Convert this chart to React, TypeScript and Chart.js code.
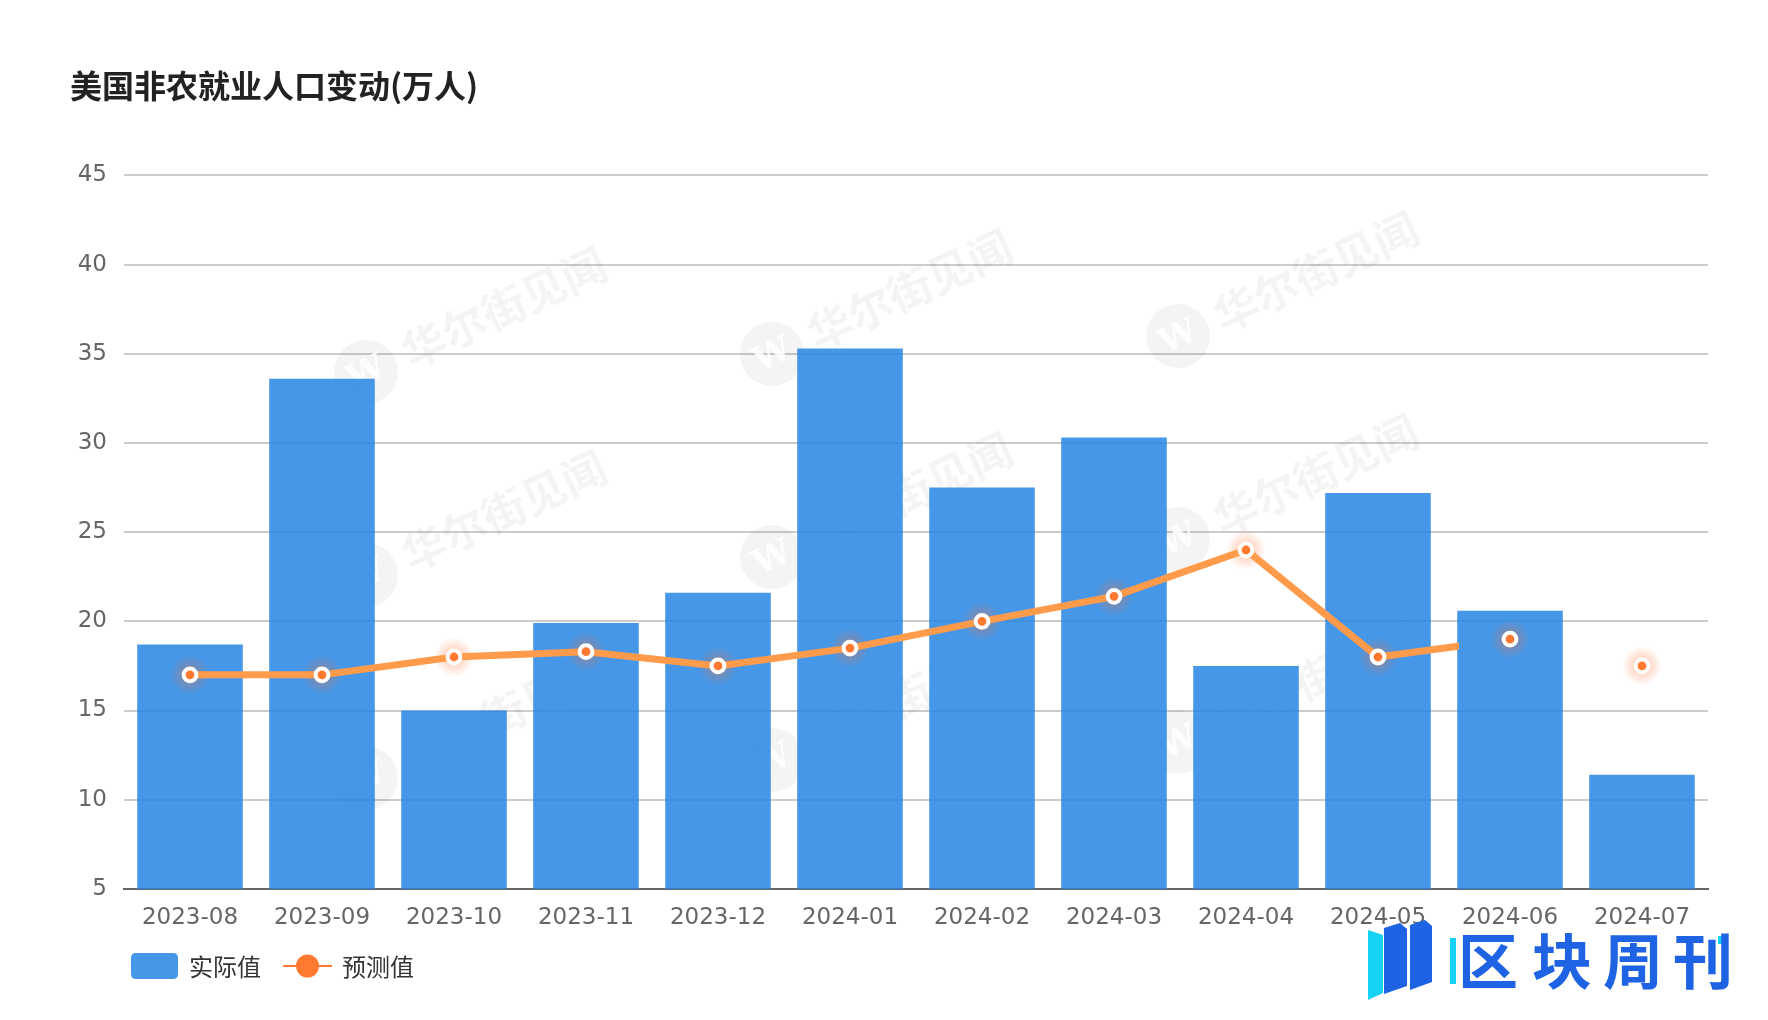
import React, { useEffect, useRef } from "react";
import { Chart, registerables } from "chart.js";

Chart.register(...registerables);

// ---------------- data ----------------
const categories = [
  "2023-08", "2023-09", "2023-10", "2023-11", "2023-12", "2024-01",
  "2024-02", "2024-03", "2024-04", "2024-05", "2024-06", "2024-07",
];
const actualValues = [18.7, 33.6, 15.0, 19.9, 21.6, 35.3, 27.5, 30.3, 17.5, 27.2, 20.6, 11.4];
const forecastValues = [17.0, 17.0, 18.0, 18.3, 17.5, 18.5, 20.0, 21.4, 24.0, 18.0, 19.0, 17.5];
const yTickMin = 5;
const yTickMax = 45;
const yTickStep = 5;
const seriesNames = ["实际值", "预测值"];
const titleText = "美国非农就业人口变动(万人)";
const watermarkText = "华尔街见闻";
const logoChars = ["区", "块", "周", "刊"];

// ---------------- styles ----------------
const CJK = "'Noto Sans CJK SC', 'Noto Sans', sans-serif";
const LATIN = "'DejaVu Sans', 'Liberation Sans', sans-serif";
const BAR_COLOR = "rgba(38,133,228,0.85)";
const BAR_LEGEND = "#4697E8";
const LINE_COLOR = "#FF9B4B";
const LINE_CLEAR = "rgba(255,155,75,0)";
const POINT_COLOR = "#FF7A30";
const LINE_VISIBLE_FRACTION = 0.61; // partial segment drawn between 2024-05 and 2024-06

function roundRect(ctx: CanvasRenderingContext2D, x: number, y: number, w: number, h: number, r: number) {
  ctx.beginPath();
  ctx.moveTo(x + r, y);
  ctx.lineTo(x + w - r, y);
  ctx.quadraticCurveTo(x + w, y, x + w, y + r);
  ctx.lineTo(x + w, y + h - r);
  ctx.quadraticCurveTo(x + w, y + h, x + w - r, y + h);
  ctx.lineTo(x + r, y + h);
  ctx.quadraticCurveTo(x, y + h, x, y + h - r);
  ctx.lineTo(x, y + r);
  ctx.quadraticCurveTo(x, y, x + r, y);
  ctx.closePath();
}

const watermarkPlugin = {
  id: "watermarkPlugin",
  beforeDatasetsDraw(chart: any) {
    const ctx: CanvasRenderingContext2D = chart.ctx;
    ctx.save();
    for (let r = 0; r < 3; r++) {
      for (let c = 0; c < 3; c++) {
        const cx = 366 + c * 406;
        const cy = 372 + r * 203 - c * 18;
        ctx.save();
        ctx.translate(cx, cy);
        ctx.rotate((-25 * Math.PI) / 180);
        ctx.fillStyle = "rgba(0,0,0,0.045)";
        ctx.beginPath();
        ctx.arc(0, 0, 32, 0, Math.PI * 2);
        ctx.fill();
        ctx.fillStyle = "rgba(255,255,255,0.85)";
        ctx.font = "bold 34px 'DejaVu Serif', serif";
        ctx.textAlign = "center";
        ctx.textBaseline = "middle";
        ctx.fillText("W", 0, 2);
        ctx.fillStyle = "rgba(0,0,0,0.045)";
        ctx.font = `bold 44px ${CJK}`;
        ctx.textAlign = "left";
        ctx.fillText(watermarkText, 42, 0);
        ctx.restore();
      }
    }
    ctx.restore();
  },
};

const glowPlugin = {
  id: "glowPlugin",
  beforeDatasetDraw(chart: any, args: any) {
    if (args.index !== 1) return;
    const ctx: CanvasRenderingContext2D = chart.ctx;
    const meta = chart.getDatasetMeta(1);
    ctx.save();
    meta.data.forEach((pt: any) => {
      const g = ctx.createRadialGradient(pt.x, pt.y, 4, pt.x, pt.y, 20);
      g.addColorStop(0, "rgba(255,110,40,0.35)");
      g.addColorStop(1, "rgba(255,110,40,0)");
      ctx.fillStyle = g;
      ctx.beginPath();
      ctx.arc(pt.x, pt.y, 20, 0, Math.PI * 2);
      ctx.fill();
    });
    ctx.restore();
  },
};

const legendAndLogoPlugin = {
  id: "legendAndLogoPlugin",
  afterDraw(chart: any) {
    const ctx: CanvasRenderingContext2D = chart.ctx;
    ctx.save();
    // legend
    const y = 966;
    let x = 131;
    ctx.font = `24px ${CJK}`;
    ctx.textBaseline = "middle";
    ctx.textAlign = "left";
    ctx.fillStyle = BAR_LEGEND;
    roundRect(ctx, x, y - 13, 47, 26, 5);
    ctx.fill();
    x += 47 + 11;
    ctx.fillStyle = "#333";
    ctx.fillText(chart.data.datasets[0].label, x, y + 1);
    x += ctx.measureText(chart.data.datasets[0].label).width + 22;
    ctx.strokeStyle = POINT_COLOR;
    ctx.lineWidth = 2;
    ctx.beginPath();
    ctx.moveTo(x, y);
    ctx.lineTo(x + 49, y);
    ctx.stroke();
    ctx.fillStyle = POINT_COLOR;
    ctx.beginPath();
    ctx.arc(x + 24.5, y, 11.5, 0, Math.PI * 2);
    ctx.fill();
    x += 49 + 10;
    ctx.fillStyle = "#333";
    ctx.fillText(chart.data.datasets[1].label, x, y + 1);

    // logo (bottom-right)
    ctx.fillStyle = "#15D2F4";
    ctx.beginPath();
    ctx.moveTo(1368, 930);
    ctx.lineTo(1383, 935);
    ctx.lineTo(1383, 993);
    ctx.lineTo(1368, 1000);
    ctx.closePath();
    ctx.fill();
    ctx.fillStyle = "#1E63E3";
    ctx.beginPath();
    ctx.moveTo(1384, 928);
    ctx.lineTo(1400, 923);
    ctx.lineTo(1407, 929);
    ctx.lineTo(1407, 986);
    ctx.lineTo(1384, 994);
    ctx.closePath();
    ctx.fill();
    ctx.beginPath();
    ctx.moveTo(1410, 925);
    ctx.lineTo(1425, 920);
    ctx.lineTo(1432, 926);
    ctx.lineTo(1432, 982);
    ctx.lineTo(1410, 990);
    ctx.closePath();
    ctx.fill();
    ctx.fillStyle = "#15D2F4";
    ctx.fillRect(1450, 938, 6, 46);
    ctx.fillRect(1718, 936, 7, 8);
    ctx.fillStyle = "#1E63E3";
    ctx.font = `bold 60px ${CJK}`;
    ctx.textAlign = "center";
    ctx.textBaseline = "middle";
    const centers = [1488, 1562, 1633, 1703];
    logoChars.forEach((ch, i) => ctx.fillText(ch, centers[i], 961));
    ctx.restore();
  },
};

export default function App() {
  const canvasRef = useRef<HTMLCanvasElement>(null);

  useEffect(() => {
    const canvas = canvasRef.current;
    if (!canvas) return;
    let chartRef: any = null;

    const chart = new Chart(canvas, {
      type: "bar",
      data: {
        labels: categories,
        datasets: [
          {
            type: "bar",
            label: seriesNames[0],
            data: actualValues,
            backgroundColor: BAR_COLOR,
            borderWidth: 0,
            barPercentage: 0.8,
            categoryPercentage: 1.0,
            order: 2,
          },
          {
            type: "line",
            label: seriesNames[1],
            data: forecastValues,
            borderColor: LINE_COLOR,
            borderWidth: 7,
            tension: 0,
            pointRadius: 6.4,
            pointHoverRadius: 6.4,
            pointBorderWidth: 4,
            pointBorderColor: "#ffffff",
            pointBackgroundColor: POINT_COLOR,
            order: 1,
            segment: {
              borderColor: (sctx: any) => {
                if (sctx.p0DataIndex === 9 && chartRef) {
                  const g = chartRef.ctx.createLinearGradient(sctx.p0.x, 0, sctx.p1.x, 0);
                  g.addColorStop(0, LINE_COLOR);
                  g.addColorStop(LINE_VISIBLE_FRACTION, LINE_COLOR);
                  g.addColorStop(LINE_VISIBLE_FRACTION, LINE_CLEAR);
                  g.addColorStop(1, LINE_CLEAR);
                  return g;
                }
                if (sctx.p0DataIndex >= 10) return LINE_CLEAR;
                return undefined;
              },
            },
          } as any,
        ],
      },
      options: {
        responsive: false,
        animation: false,
        devicePixelRatio: 1,
        layout: { padding: { left: 70, right: 60, top: 0, bottom: 73.5 } },
        plugins: {
          legend: { display: false },
          tooltip: { enabled: false },
          title: {
            display: true,
            text: titleText,
            align: "start",
            color: "#222",
            font: { family: CJK, size: 32, weight: "bold" },
            padding: { top: 67, bottom: 70 },
          },
        },
        scales: {
          x: {
            z: 1,
            grid: { display: false, drawTicks: false },
            border: { display: true, color: "#666", width: 2 },
            ticks: {
              color: "#666",
              padding: 15,
              font: { family: LATIN, size: 23 },
              maxRotation: 0,
              autoSkip: false,
            },
          },
          y: {
            min: yTickMin,
            max: yTickMax,
            grid: { color: "#cccccc", lineWidth: 2, drawTicks: false },
            border: { display: false },
            ticks: {
              stepSize: yTickStep,
              color: "#666",
              padding: 17,
              font: { family: LATIN, size: 23 },
            },
            afterFit: (scale: any) => {
              scale.width = 54;
            },
          },
        },
      },
      plugins: [watermarkPlugin, glowPlugin, legendAndLogoPlugin],
    } as any);
    chartRef = chart;
    chart.update();

    return () => {
      chart.destroy();
    };
  }, []);

  return (
    <div style={{ position: "fixed", left: 0, top: 0, width: 1768, height: 1020, background: "#fff" }}>
      <canvas ref={canvasRef} width={1768} height={1020} style={{ display: "block", width: 1768, height: 1020 }} />
    </div>
  );
}
